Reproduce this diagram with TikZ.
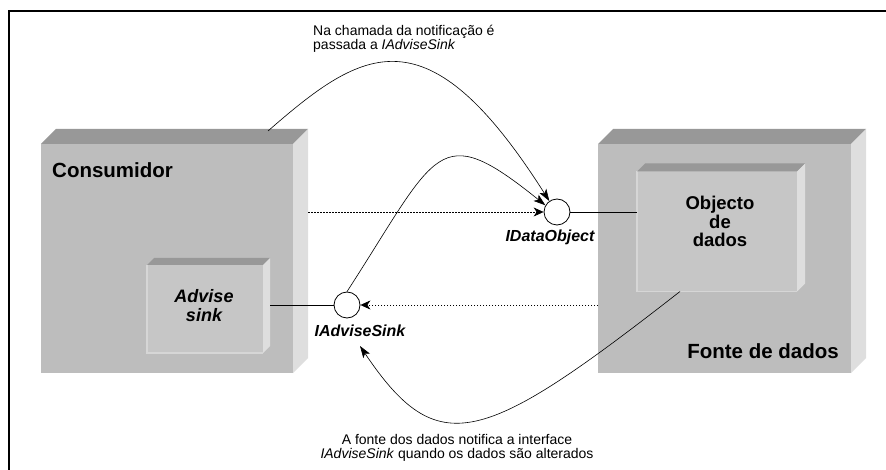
\documentclass[tikz,border=0pt]{standalone}
\usepackage{fontspec}
\setmainfont{Liberation Sans}
\usetikzlibrary{arrows.meta,calc}
\definecolor{outergray}{RGB}{189,189,189}
\definecolor{innergray}{RGB}{198,198,198}
\definecolor{edgegray}{RGB}{214,214,214}
\definecolor{topgray}{RGB}{152,152,152}
\definecolor{sidegray}{RGB}{222,222,222}
\newcommand{\tightlines}{\lineskiplimit-20pt\relax}

\begin{document}
\begin{tikzpicture}[
    x=1pt, y=-1pt,
    boxface/.style={
        inner sep=0pt,
        outer sep=0pt
    },
    topface/.style={fill=topgray},
    sideface/.style={fill=sidegray},
    iface/.style={
        circle,
        draw=black,
        line width=0.8pt,
        fill=white,
        minimum size=26pt,
        inner sep=0pt
    },
    boxtitle/.style={font=\bfseries\fontsize{20.5}{22}\selectfont, inner sep=0pt},
    boxtext/.style={align=center, inner sep=0pt},
    ifacename/.style={font=\bfseries\itshape\fontsize{16}{18}\selectfont, inner sep=0pt},
    notetext/.style={font=\fontsize{14}{14}\selectfont\tightlines, inner sep=0pt},
    ifacelink/.style={line width=0.8pt},
    dotflow/.style={
        line width=0.7pt,
        dash pattern=on 1.5pt off 1.5pt,
        -{Stealth[length=10pt, width=9pt, inset=3pt]}
    },
    callarrow/.style={
        line width=0.6pt,
        -{Stealth[length=12pt, width=8pt, inset=3pt]}
    }
]
    \useasboundingbox (0,0) rectangle (886,470);
    \draw[line width=2pt] (9,470) -- (9,11) -- (886,11);

    % front faces of the boxes
    \foreach \name/\x/\y/\w/\h/\col in {
        cons/167/258.5/252/229/outergray,
        fonte/724.5/258.5/253/229/outergray,
        sink/205/309/116/88/innergray,
        obj/717/231.5/160/120/innergray%
    } {
        \node[boxface, fill=\col, minimum width=\w pt, minimum height=\h pt] (\name) at (\x, \y) {};
    }
    % light edges of the inner boxes
    \foreach \name in {sink, obj} {
        \draw[edgegray, line width=1.2pt] (\name.north west) -- (\name.south west) -- (\name.south east);
    }
    % top and side faces
    \foreach \name/\d in {cons/15, fonte/15, sink/7, obj/8} {
        \fill[topface] (\name.north west) -- ++(\d,-\d)
            -- ([shift={(\d,-\d)}]\name.north east) -- (\name.north east) -- cycle;
        \fill[sideface] (\name.north east) -- ([shift={(\d,-\d)}]\name.north east)
            -- ([shift={(\d,-\d)}]\name.south east) -- (\name.south east) -- cycle;
    }

    \node[boxtitle, anchor=base west] (constitle) at ($(cons.north west)+(11,34)$) {Consumidor};
    \node[boxtitle, anchor=base east] (fontetitle) at ($(fonte.south east)+(-12,-15)$) {Fonte de dados};
    \node[boxtext, font=\bfseries\itshape\fontsize{18}{19}\selectfont] (sinktext)
        at ($(sink.center)+(-1,-3)$) {Advise\\sink};
    \node[boxtext, font=\bfseries\fontsize{18.5}{18.5}\selectfont] (objtext)
        at ($(obj.center)+(3,-10)$) {Objecto\\de\\dados};

    % interfaces
    \node[iface] (ido) at (557,212) {};
    \node[iface] (ias) at (347,305) {};
    \node[ifacename, anchor=base] (idoname) at (550,242) {IDataObject};
    \node[ifacename, anchor=base] (iasname) at (360,336) {IAdviseSink};

    \draw[ifacelink] (ido.east) -- (ido.east -| obj.west);
    \draw[ifacelink] (ias.west) -- ($(ias.west -| sink.east)+(7,0)$);
    \draw[dotflow] ($(cons.east |- ido.west)+(15,0)$) -- (ido.west);
    \draw[dotflow] (fonte.west |- ias.east) -- (ias.east);

    % notification curves
    \coordinate (callstart) at ($(cons.north east)+(-25,-13)$);
    \coordinate (notifystart) at ($(obj.south)+(-37,0)$);
    \coordinate (notifyend) at ($(iasname.base)+(0,10)$);
    \draw[callarrow] (callstart) .. controls (363,48) and (427,8) .. (ido.125);
    \draw[callarrow] (ias.north) .. controls (438,151) and (437,118) .. (ido.150);
    \draw[callarrow] (notifystart) .. controls (482,446) and (438,462) .. (notifyend);

    \node[notetext, align=left, anchor=north west] (callnote) at (313,25)
        {Na chamada da notificação é\\passada a \textit{IAdviseSink}};
    \node[notetext, align=center, anchor=north] (notifynote) at (457,434)
        {A fonte dos dados notifica a interface\\\textit{IAdviseSink} quando os dados são alterados};

\end{tikzpicture}
\end{document}
